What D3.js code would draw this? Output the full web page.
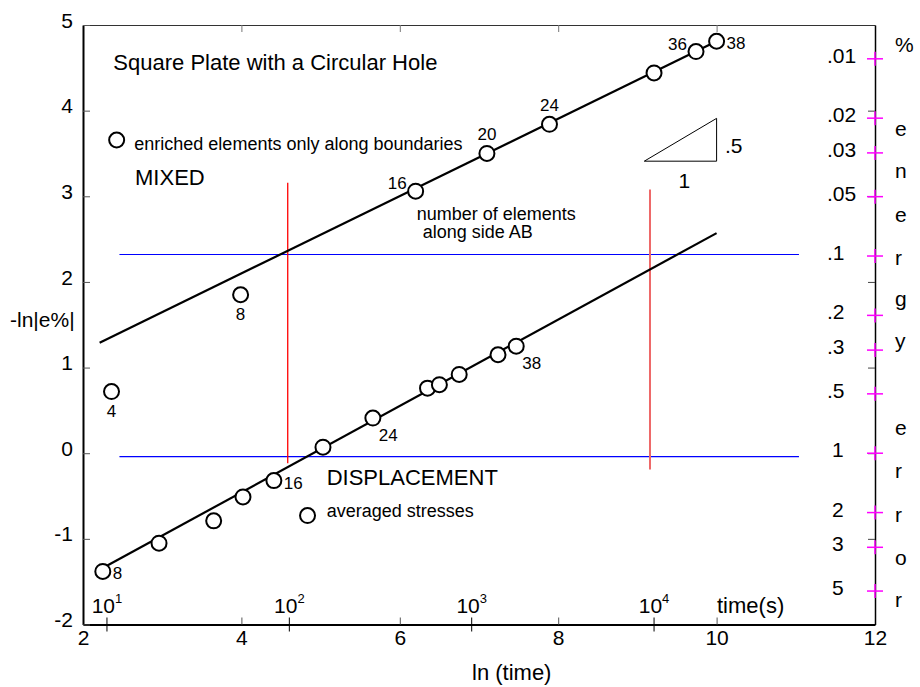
<!DOCTYPE html>
<html>
<head>
<meta charset="utf-8">
<script src="https://cdn.jsdelivr.net/npm/d3@7"></script>
<style>
  body { margin: 0; background: #fff; }
  svg { font-family: "Liberation Sans", Arial, sans-serif; }
</style>
</head>
<body>
<div id="vis"></div>
<script>
// -ln|e%| against ln(time)
var mixedX = [6.20, 7.10, 7.89, 9.21, 9.74, 10.00];
var mixedY = [3.06, 3.50, 3.84, 4.44, 4.69, 4.81];
var mixedLabels = ["16", "20", "24", "", "36", "38"];
var mixedFit = [[2.21, 1.29], [10.0, 4.81]];

var boundaryX = [2.36, 3.99];
var boundaryY = [0.72, 1.85];
var boundaryLabels = ["4", "8"];

var dispX = [2.25, 2.96, 3.65, 4.02, 4.41, 5.03, 5.66, 6.35, 6.50, 6.75, 7.24, 7.47];
var dispY = [-1.38, -1.05, -0.79, -0.51, -0.32, 0.07, 0.41, 0.76, 0.80, 0.92, 1.15, 1.25];
var dispLabels = ["8", "", "", "", "16", "", "24", "", "", "", "", "38"];
var dispFit = [[2.29, -1.32], [10.0, 2.57]];

var xTicks = [2, 4, 6, 8, 10, 12];
var yTicks = [-2, -1, 0, 1, 2, 3, 4, 5];
var decades = [1, 2, 3, 4];
var errValues = [0.01, 0.02, 0.03, 0.05, 0.1, 0.2, 0.3, 0.5, 1, 2, 3, 5];
var errLabels = [".01", ".02", ".03", ".05", ".1", ".2", ".3", ".5", "1", "2", "3", "5"];
var sideLetters = ["%", "e", "n", "e", "r", "g", "y", "e", "r", "r", "o", "r"];
var sideLetterY = [4.69, 3.70, 3.21, 2.70, 2.20, 1.72, 1.23, 0.21, -0.29, -0.80, -1.31, -1.79];

var width = 920, height = 687;
var x = d3.scaleLinear().domain([2, 12]).range([83, 875]);
var y = d3.scaleLinear().domain([-2, 5]).range([624.5, 25]);

var svg = d3.select("#vis").append("svg")
    .attr("width", width).attr("height", height);

// reference lines
var hLines = [2.32, -0.04];
svg.selectAll(".hline").data(hLines).enter().append("line")
    .attr("x1", x(2.46)).attr("x2", x(11.04))
    .attr("y1", function(d) { return y(d); }).attr("y2", function(d) { return y(d); })
    .attr("stroke", "#0000ff").attr("stroke-width", 1.2);

var vLines = [[4.585, -0.117, 3.158, "#ff0000", 1.3], [9.159, -0.19, 3.08, "#ee6868", 2]];
svg.selectAll(".vline").data(vLines).enter().append("line")
    .attr("x1", function(d) { return x(d[0]); }).attr("x2", function(d) { return x(d[0]); })
    .attr("y1", function(d) { return y(d[1]); }).attr("y2", function(d) { return y(d[2]); })
    .attr("stroke", function(d) { return d[3]; })
    .attr("stroke-width", function(d) { return d[4]; });

// axes
var tickFont = function(g) { g.selectAll("text").attr("font-size", 21).attr("fill", "#000").attr("font-family", null); };
var plain = function(d) { return String(d); };

svg.append("g").attr("transform", "translate(0," + y(-2) + ")")
    .call(d3.axisBottom(x).tickValues(xTicks).tickSizeInner(-7).tickSizeOuter(0).tickPadding(6).tickFormat(plain))
    .call(tickFont)
    .call(function(g) {
        g.select(".domain").attr("stroke-width", 2);
        g.selectAll(".tick line").attr("stroke", "#555");
    });

svg.append("g").attr("transform", "translate(0," + y(5) + ")")
    .call(d3.axisTop(x).tickValues([4, 6, 8, 10]).tickSizeInner(-7).tickSizeOuter(0).tickFormat(""))
    .call(function(g) {
        g.select(".domain").attr("stroke", "#333");
        g.selectAll(".tick line").attr("stroke", "#777");
    });

svg.append("g").attr("transform", "translate(" + x(2) + ",0)")
    .call(d3.axisLeft(y).tickValues(yTicks).tickSizeInner(-7).tickSizeOuter(0).tickPadding(10).tickFormat(plain))
    .call(tickFont)
    .call(function(g) {
        g.select(".domain").attr("stroke-width", 2);
        g.selectAll(".tick line").attr("stroke", "#555");
        g.selectAll(".tick text").attr("dy", "0.1em");
    });

svg.append("g").attr("transform", "translate(" + x(12) + ",0)")
    .call(d3.axisRight(y).tickValues([-1, 0, 1, 2, 3, 4]).tickSizeInner(-7).tickSizeOuter(0).tickFormat(""))
    .call(function(g) {
        g.select(".domain").attr("stroke-width", 1.5);
        g.selectAll(".tick line").attr("stroke", "#444");
    });

// time decade ticks on the bottom axis
svg.selectAll(".dtick").data(decades).enter().append("line")
    .attr("x1", function(d) { return x(Math.log(Math.pow(10, d))); })
    .attr("x2", function(d) { return x(Math.log(Math.pow(10, d))); })
    .attr("y1", y(-2) - 7).attr("y2", y(-2) + 7)
    .attr("stroke", "#000").attr("stroke-width", 1);

var dlab = svg.selectAll(".dlab").data(decades).enter().append("text")
    .attr("x", function(d) { return x(Math.log(Math.pow(10, d))); })
    .attr("y", y(-2) - 12)
    .attr("text-anchor", "middle").attr("font-size", 21);
dlab.append("tspan").text("10");
dlab.append("tspan").attr("dy", -10).attr("font-size", 13).text(function(d) { return d; });

svg.append("text").attr("x", 717).attr("y", 613).attr("font-size", 22).text("time(s)");

// percent error scale on the right
var err = svg.selectAll(".err").data(errValues).enter().append("g")
    .attr("transform", function(d) { return "translate(" + x(12) + "," + y(-Math.log(d)) + ")"; });
err.append("line").attr("x1", -8).attr("x2", 8).attr("stroke", "#ff00ff").attr("stroke-width", 1.5);
err.append("line").attr("y1", -7).attr("y2", 7).attr("stroke", "#ff00ff").attr("stroke-width", 1.5);
err.append("text")
    .attr("x", function(d, i) { return errLabels[i].charAt(0) == "." ? -48 : -43; })
    .attr("y", 4).attr("font-size", 21)
    .text(function(d, i) { return errLabels[i]; });

svg.selectAll(".side").data(sideLetters).enter().append("text")
    .attr("x", 895).attr("y", function(d, i) { return y(sideLetterY[i]); })
    .attr("font-size", 21).text(function(d) { return d; });

// fitted lines
var line = d3.line().x(function(d) { return x(d[0]); }).y(function(d) { return y(d[1]); });
[mixedFit, dispFit].forEach(function(f) {
    svg.append("path").attr("d", line(f)).attr("fill", "none")
        .attr("stroke", "#000").attr("stroke-width", 2.2);
});

// points
var place = {
    ul: ["end", -9, -2], u: ["middle", 0, -13], r: ["start", 10, 8],
    br: ["start", 6, 23], b: ["middle", 0, 25]
};
function drawSeries(xs, ys, labels, where) {
    var pts = xs.map(function(v, i) { return { x: v, y: ys[i], label: labels[i], pos: where[i] }; });
    svg.selectAll(null).data(pts).enter().append("circle")
        .attr("cx", function(d) { return x(d.x); }).attr("cy", function(d) { return y(d.y); })
        .attr("r", 7.5).attr("fill", "#fff").attr("stroke", "#000").attr("stroke-width", 2);
    svg.selectAll(null).data(pts.filter(function(d) { return d.label; })).enter().append("text")
        .attr("x", function(d) { return x(d.x) + place[d.pos][1]; })
        .attr("y", function(d) { return y(d.y) + place[d.pos][2]; })
        .attr("text-anchor", function(d) { return place[d.pos][0]; })
        .attr("font-size", 17).text(function(d) { return d.label; });
}
drawSeries(mixedX, mixedY, mixedLabels, ["ul", "u", "u", "", "ul", "r"]);
drawSeries(boundaryX, boundaryY, boundaryLabels, ["b", "b"]);
drawSeries(dispX, dispY, dispLabels, ["r", "", "", "", "r", "", "br", "", "", "", "", "br"]);

// legend markers and notes
[[2.425, 3.657], [4.835, -0.728]].forEach(function(p) {
    svg.append("circle").attr("cx", x(p[0])).attr("cy", y(p[1])).attr("r", 7.5)
        .attr("fill", "#fff").attr("stroke", "#000").attr("stroke-width", 2);
});

var notes = [
    ["Square Plate with a Circular Hole", 2.383, 4.47, 22],
    ["enriched elements only along boundaries", 2.648, 3.54, 18],
    ["MIXED", 2.657, 3.13, 22],
    ["number of elements", 6.213, 2.723, 18],
    ["along side AB", 6.289, 2.51, 18],
    ["DISPLACEMENT", 5.077, -0.371, 22],
    ["averaged stresses", 5.077, -0.75, 18],
    [".5", 10.106, 3.51, 21],
    ["1", 9.52, 3.097, 21]
];
svg.selectAll(".note").data(notes).enter().append("text")
    .attr("x", function(d) { return x(d[1]); }).attr("y", function(d) { return y(d[2]); })
    .attr("font-size", function(d) { return d[3]; })
    .text(function(d) { return d[0]; });

// slope triangle
svg.append("path")
    .attr("d", line([[9.087, 3.41], [10.0, 3.41], [10.0, 3.91], [9.087, 3.41]]))
    .attr("fill", "none").attr("stroke", "#000").attr("stroke-width", 1);

// axis titles
svg.append("text").attr("x", 10).attr("y", 327).attr("font-size", 21).text("-ln|e%|");
svg.append("text").attr("x", 472).attr("y", 680).attr("font-size", 22).text("ln (time)");
</script>
</body>
</html>
